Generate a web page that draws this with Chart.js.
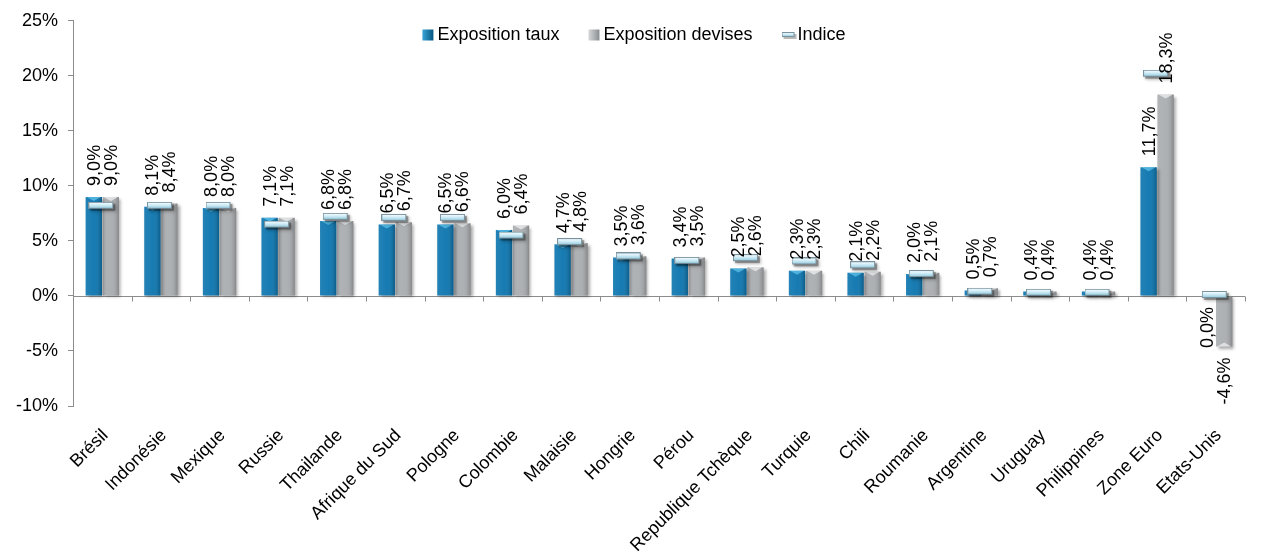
<!DOCTYPE html>
<html><head><meta charset="utf-8">
<script src="https://cdn.jsdelivr.net/npm/chart.js@4"></script>
<style>html,body{margin:0;padding:0;background:#fff}canvas{display:block}</style>
</head><body>
<canvas id="c" width="1261" height="556"></canvas>
<script>
const categories = ['Brésil','Indonésie','Mexique','Russie','Thailande','Afrique du Sud','Pologne','Colombie','Malaisie','Hongrie','Pérou','Republique Tchèque','Turquie','Chili','Roumanie','Argentine','Uruguay','Philippines','Zone Euro','Etats-Unis'];
const expositionTaux    = [9.0, 8.1, 8.0, 7.1, 6.8, 6.5, 6.5, 6.0, 4.7, 3.5, 3.4, 2.5, 2.3, 2.1, 2.0, 0.5, 0.4, 0.4, 11.7, 0.0];
const expositionDevises = [9.0, 8.4, 8.0, 7.1, 6.8, 6.7, 6.6, 6.4, 4.8, 3.6, 3.5, 2.6, 2.3, 2.2, 2.1, 0.7, 0.4, 0.4, 18.3, -4.6];
const indice            = [8.1, 8.1, 8.1, 6.4, 7.1, 7.0, 7.0, 5.4, 4.8, 3.5, 3.1, 3.35, 3.05, 2.7, 1.9, 0.3, 0.2, 0.2, 20.1, 0.0];
const seriesNames = ['Exposition taux','Exposition devises','Indice'];
const yMin = -10, yMax = 25, yStep = 5;

const FAMILY = "'Liberation Sans', Arial, sans-serif";
const BLUE = '#0a74ae', BLUE_BORDER = '#07577f';
const GRAY = '#a9acaf', GRAY_BORDER = '#878a8d';

function makeMarker(w, h) {
  const c = document.createElement('canvas');
  c.width = w + 3; c.height = h + 3;
  const g = c.getContext('2d');
  g.fillStyle = 'rgba(0,0,0,0.28)';
  g.fillRect(2, 2, w, h);
  const gr = g.createLinearGradient(0, 0, 0, h);
  gr.addColorStop(0, '#ffffff');
  gr.addColorStop(0.45, '#d2eef8');
  gr.addColorStop(1, '#8cc6da');
  g.fillStyle = gr;
  g.fillRect(0.5, 0.5, w - 1, h - 1);
  g.strokeStyle = '#7a929e';
  g.lineWidth = 1;
  g.strokeRect(0.5, 0.5, w - 1, h - 1);
  return c;
}
const markerImg = makeMarker(25, 7);
const legendMarkerImg = makeMarker(13, 5);

const fmt = v => v.toFixed(1).replace('.', ',') + '%';

const zeroLinePlugin = {
  id: 'zeroLine',
  beforeDatasetsDraw(chart) {
    const {ctx, chartArea, scales} = chart;
    const y0 = Math.round(scales.y.getPixelForValue(0)) + 0.5;
    ctx.save();
    ctx.strokeStyle = '#8c8c8c';
    ctx.lineWidth = 1;
    ctx.beginPath();
    ctx.moveTo(chartArea.left, y0);
    ctx.lineTo(chartArea.right, y0);
    const n = categories.length;
    const step = scales.x.width / n;
    for (let i = 1; i <= n; i++) {
      const x = Math.round(scales.x.getPixelForValue(i - 1) + step / 2) + 0.5;
      ctx.moveTo(x, y0);
      ctx.lineTo(x, y0 + 5);
    }
    ctx.stroke();
    ctx.restore();
    ctx.save();
    ctx.shadowColor = 'rgba(0,0,0,0.35)';
    ctx.shadowOffsetX = 2;
    ctx.shadowOffsetY = 2;
    ctx.shadowBlur = 3;
  },
  afterDatasetDraw(chart, args) {
    if (args.index > 1) return;
    const ctx = chart.ctx;
    ctx.save();
    ctx.shadowColor = 'rgba(0,0,0,0)';
    const meta = chart.getDatasetMeta(args.index);
    meta.data.forEach(el => {
      const left = el.x - el.width / 2, right = el.x + el.width / 2;
      const top = Math.min(el.y, el.base), bottom = Math.max(el.y, el.base);
      if (bottom - top < 0.5) return;
      const gr = ctx.createLinearGradient(left, 0, right, 0);
      gr.addColorStop(0, 'rgba(255,255,255,0.10)');
      gr.addColorStop(0.55, 'rgba(255,255,255,0.05)');
      gr.addColorStop(1, 'rgba(0,0,0,0.22)');
      ctx.fillStyle = gr;
      ctx.fillRect(left, top, right - left, bottom - top);
      const bh = Math.min(4, bottom - top);
      ctx.fillStyle = args.index === 0 ? 'rgba(120,220,255,0.55)' : 'rgba(255,255,255,0.6)';
      ctx.beginPath();
      if (el.y <= el.base) {
        ctx.moveTo(left + 1, top); ctx.lineTo(right - 1, top);
        ctx.lineTo(el.x, top + bh); ctx.closePath();
      } else {
        ctx.moveTo(left + 1, bottom); ctx.lineTo(right - 1, bottom);
        ctx.lineTo(el.x, bottom - bh); ctx.closePath();
      }
      ctx.fill();
    });
    ctx.restore();
  },
  afterDatasetsDraw(chart) {
    chart.ctx.restore();
    const ctx = chart.ctx;
    ctx.save();
    ctx.fillStyle = '#000';
    ctx.font = '18px ' + FAMILY;
    ctx.textBaseline = 'middle';
    [0, 1].forEach(di => {
      const meta = chart.getDatasetMeta(di);
      const data = chart.data.datasets[di].data;
      meta.data.forEach((el, i) => {
        const v = data[i];
        ctx.save();
        if (v > 0) {
          ctx.translate(el.x, el.y - 11);
          ctx.rotate(-Math.PI / 2);
          ctx.textAlign = 'left';
        } else {
          ctx.translate(el.x, el.y + 11);
          ctx.rotate(-Math.PI / 2);
          ctx.textAlign = 'right';
        }
        ctx.fillText(fmt(v), 0, 1);
        ctx.restore();
      });
    });
    ctx.restore();
  }
};

const legendPlugin = {
  id: 'customLegend',
  afterDraw(chart) {
    const ctx = chart.ctx;
    ctx.save();
    ctx.font = '18px ' + FAMILY;
    ctx.textBaseline = 'middle';
    ctx.fillStyle = '#000';
    const box = 11, gap = 4, spacing = 29;
    const widths = seriesNames.map((s, i) => (i === 2 ? 14 : box) + gap + ctx.measureText(s).width);
    const total = widths.reduce((a, b) => a + b, 0) + spacing * (seriesNames.length - 1);
    const cx = 635, cy = 35;
    let x = cx - total / 2;
    seriesNames.forEach((s, i) => {
      if (i < 2) {
        const gr = ctx.createLinearGradient(x, 0, x + box, 0);
        if (i === 0) { gr.addColorStop(0, '#3aa6d8'); gr.addColorStop(1, '#06567f'); }
        else { gr.addColorStop(0, '#d6d8da'); gr.addColorStop(1, '#8a8d90'); }
        ctx.fillStyle = gr;
        ctx.fillRect(x, cy - box / 2, box, box);
        ctx.fillStyle = '#000';
        ctx.fillText(s, x + box + gap, cy);
      } else {
        ctx.drawImage(legendMarkerImg, x, cy - 3);
        ctx.fillText(s, x + 14 + gap - 2, cy);
      }
      x += widths[i] + spacing;
    });
    ctx.restore();
  }
};

new Chart(document.getElementById('c'), {
  data: {
    labels: categories,
    datasets: [
      { type: 'bar', label: seriesNames[0], data: expositionTaux, backgroundColor: BLUE, borderColor: BLUE_BORDER, borderWidth: 0, order: 2, categoryPercentage: 0.58, barPercentage: 0.96 },
      { type: 'bar', label: seriesNames[1], data: expositionDevises, backgroundColor: GRAY, borderColor: GRAY_BORDER, borderWidth: 0, order: 2, categoryPercentage: 0.58, barPercentage: 0.96 },
      { type: 'line', label: seriesNames[2], data: indice, showLine: false, pointStyle: markerImg, pointRadius: 6, pointHoverRadius: 6, order: 0 }
    ]
  },
  options: {
    responsive: false,
    devicePixelRatio: 1,
    animation: false,
    layout: { padding: { top: 20, right: 16, left: 0, bottom: 0 } },
    plugins: { legend: { display: false }, tooltip: { enabled: false } },
    scales: {
      x: {
        offset: true,
        grid: { display: false, drawTicks: false },
        border: { display: false },
        ticks: { autoSkip: false, minRotation: 45, maxRotation: 45, color: '#000', font: { size: 18, family: FAMILY }, padding: 19, labelOffset: 3 },
        afterFit(s) { s.height = 150; }
      },
      y: {
        min: yMin, max: yMax,
        grid: { drawOnChartArea: false, drawTicks: true, tickLength: 5, color: '#8c8c8c' },
        border: { color: '#8c8c8c', width: 1 },
        ticks: { stepSize: yStep, color: '#000', font: { size: 18, family: FAMILY }, padding: 10, callback: v => v + '%' },
        afterFit(s) { s.width = 73; }
      }
    }
  },
  plugins: [zeroLinePlugin, legendPlugin]
});
</script>
</body></html>
